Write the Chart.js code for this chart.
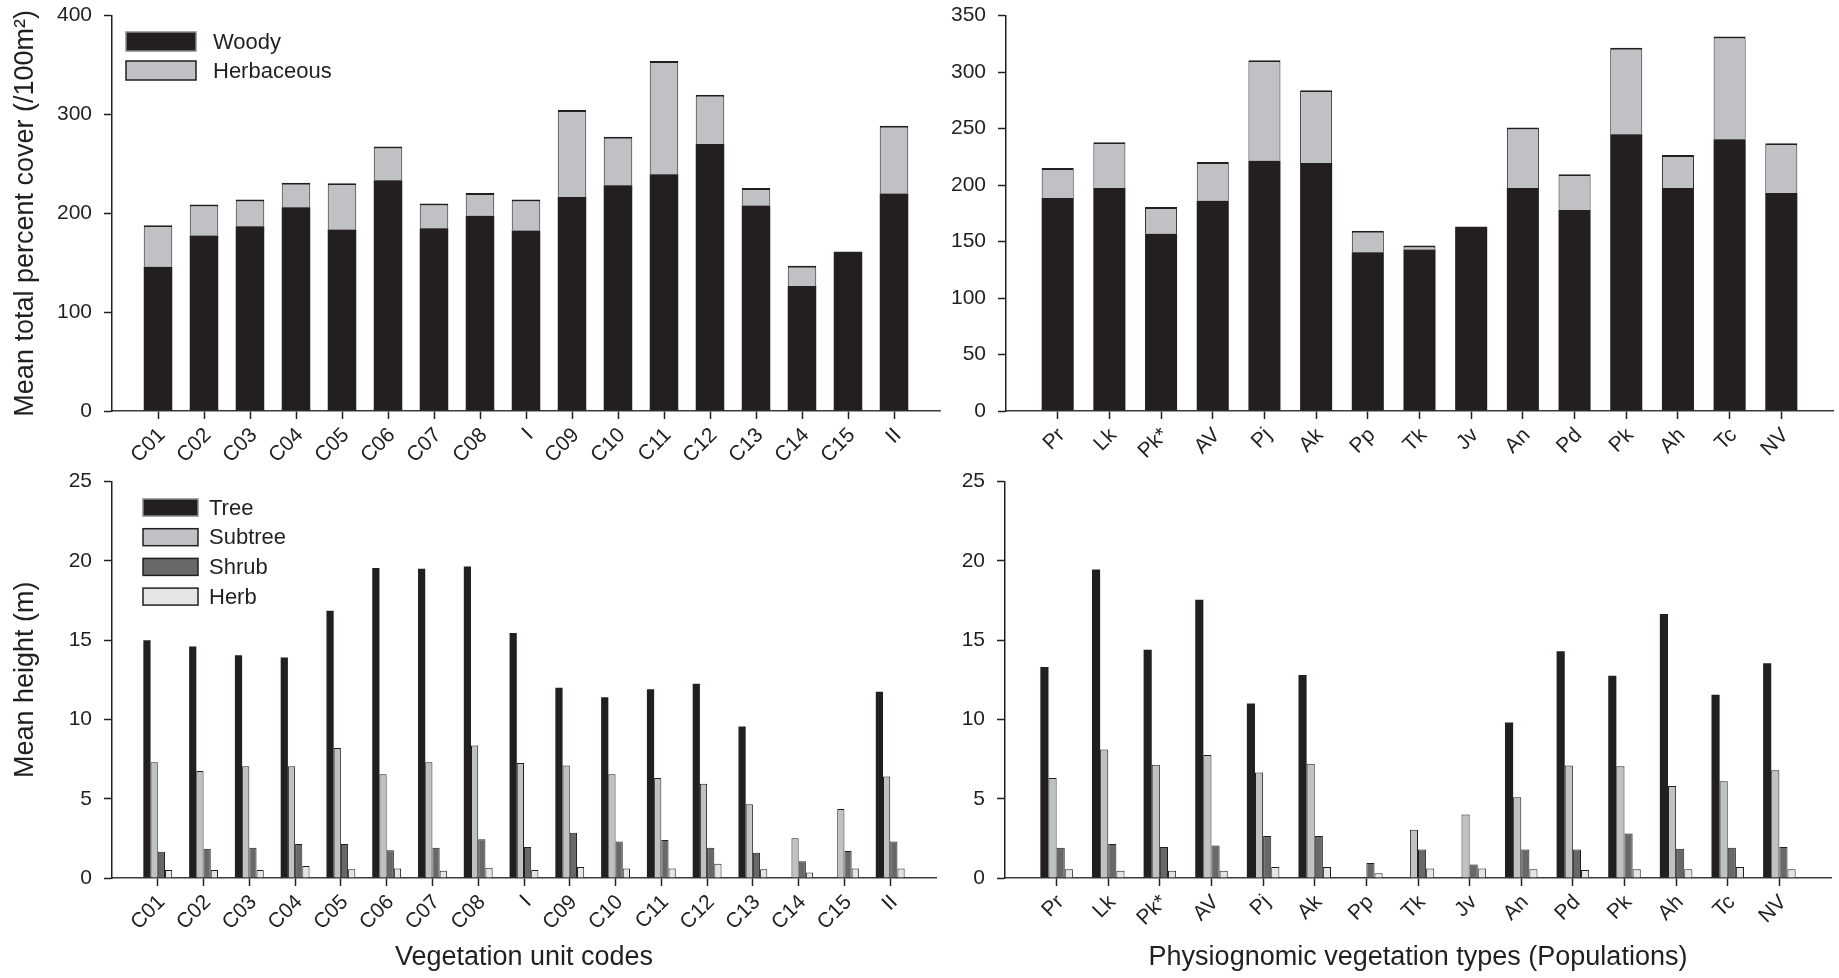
<!DOCTYPE html>
<html>
<head>
<meta charset="utf-8">
<script src="https://cdn.jsdelivr.net/npm/chart.js@4.4.1/dist/chart.umd.min.js"></script>
<style>
    html, body { margin: 0; padding: 0; background: #fff; overflow: hidden; }
    #wrap { position: relative; width: 1839px; height: 978px; overflow: hidden; }
    canvas { position: absolute; }
</style>
</head>
<body>
<div id="wrap">
    <canvas id="coverUnits" width="970" height="479" style="left:0;top:-9px"></canvas>
    <canvas id="coverTypes" width="933" height="479" style="left:930px;top:-9px"></canvas>
    <canvas id="heightUnits" width="966" height="521" style="left:0;top:457px"></canvas>
    <canvas id="heightTypes" width="931" height="521" style="left:930px;top:457px"></canvas>
</div>
<script>
// categories
const unitCodes = ['C01', 'C02', 'C03', 'C04', 'C05', 'C06', 'C07', 'C08', 'I', 'C09', 'C10', 'C11', 'C12', 'C13', 'C14', 'C15', 'II'];
const typeCodes = ['Pr', 'Lk', 'Pk*', 'AV', 'Pj', 'Ak', 'Pp', 'Tk', 'Jv', 'An', 'Pd', 'Pk', 'Ah', 'Tc', 'NV'];

// mean total percent cover (/100m2)
const unitWoody = [146, 177.5, 187, 206, 183.5, 233.5, 185, 197.5, 182.5, 216.5, 228.5, 239.5, 270, 208, 126.5, 161, 220];
const unitHerbaceous = [42, 31.5, 27, 25, 47, 34, 25, 23, 31.5, 88, 49, 114.5, 50, 17.5, 20.5, 0, 68.5];
const typeWoody = [188.5, 197.5, 157, 186, 221.5, 219.5, 140.5, 143, 163, 197.5, 178, 245, 197.5, 240.5, 193];
const typeHerbaceous = [26.5, 40.5, 23.5, 34.5, 89, 64.5, 19, 3.5, 0, 53.5, 31.5, 76.5, 29, 91, 44];

// mean height (m)
const unitTree = [15.0, 14.6, 14.05, 13.9, 16.85, 19.55, 19.5, 19.65, 15.45, 12.0, 11.4, 11.9, 12.25, 9.55, null, null, 11.75];
const unitSubtree = [7.3, 6.75, 7.05, 7.05, 8.2, 6.55, 7.3, 8.35, 7.25, 7.1, 6.55, 6.3, 5.95, 4.65, 2.5, 4.35, 6.4];
const unitShrub = [1.65, 1.85, 1.9, 2.15, 2.15, 1.75, 1.9, 2.45, 1.95, 2.85, 2.3, 2.4, 1.9, 1.6, 1.05, 1.7, 2.3];
const unitHerb = [0.5, 0.5, 0.5, 0.75, 0.55, 0.6, 0.45, 0.65, 0.5, 0.7, 0.6, 0.6, 0.9, 0.55, 0.35, 0.6, 0.6];
const typeTree = [13.3, 19.45, 14.4, 17.55, 11.0, 12.8, null, null, null, 9.8, 14.3, 12.75, 16.65, 11.55, 13.55];
const typeSubtree = [6.3, 8.1, 7.15, 7.75, 6.65, 7.2, null, 3.05, 4.0, 5.1, 7.1, 7.05, 5.8, 6.1, 6.8];
const typeShrub = [1.9, 2.15, 1.95, 2.05, 2.65, 2.65, 0.95, 1.8, 0.85, 1.8, 1.8, 2.8, 1.85, 1.9, 1.95];
const typeHerb = [0.55, 0.45, 0.45, 0.45, 0.7, 0.7, 0.3, 0.6, 0.6, 0.55, 0.5, 0.55, 0.55, 0.7, 0.55];

const ink = '#231f20';
const FONT = '"Liberation Sans", Arial, sans-serif';
Chart.defaults.font.family = FONT;
Chart.defaults.color = ink;

// one empty slot at each end gives the full-step margin seen on both sides of the axis
const padLabels = (arr) => ['', ...arr, ''];
const padData = (arr) => [null, ...arr, null];
const isEdge = (c) => c.index === 0 || c.index === c.scale.ticks.length - 1;

const boxLegend = {
    id: 'boxLegend',
    afterDraw(chart, args, opts) {
        if (!opts || opts.x === undefined) return;
        const { ctx } = chart;
        ctx.save();
        chart.data.datasets.forEach((ds, i) => {
            const top = opts.y + i * opts.step;
            ctx.fillStyle = ds.backgroundColor;
            ctx.fillRect(opts.x, top, opts.w, opts.h);
            ctx.lineWidth = 1.5;
            ctx.strokeStyle = ds.swatchBorder || ink;
            ctx.strokeRect(opts.x, top, opts.w, opts.h);
            ctx.fillStyle = ink;
            ctx.font = `22px ${FONT}`;
            ctx.textBaseline = 'middle';
            ctx.textAlign = 'left';
            ctx.fillText(ds.label, opts.x + opts.w + opts.gap, top + opts.h / 2 + 1);
        });
        ctx.restore();
    }
};

function makeOptions({ yMax, yStep, yTitle, xTitle, yWidth, xHeight, padding, stacked, legend }) {
    return {
        responsive: false,
        animation: false,
        layout: { padding },
        plugins: { legend: { display: false }, tooltip: { enabled: false }, boxLegend: legend || {} },
        scales: {
            x: {
                type: 'category',
                offset: false,
                stacked,
                grid: { drawOnChartArea: false, offset: false, tickLength: 8, tickWidth: 1.5, tickColor: (c) => (isEdge(c) ? 'rgba(0,0,0,0)' : ink) },
                border: { color: '#3b3b3b', width: 1.5 },
                ticks: { autoSkip: false, maxRotation: 45, minRotation: 45, padding: 4, labelOffset: 4, color: ink, font: { size: 21 } },
                title: xTitle ? { display: true, text: xTitle, color: ink, font: { size: 27 }, padding: { top: 0, bottom: 4 } } : { display: false },
                afterFit: (s) => { s.height = xHeight; }
            },
            y: {
                min: 0,
                max: yMax,
                stacked,
                grid: { drawOnChartArea: false, tickLength: 8, tickWidth: 1.5, tickColor: ink },
                border: { color: ink, width: 1.5 },
                ticks: { stepSize: yStep, padding: 12, color: ink, font: { size: 21 } },
                title: yTitle ? { display: true, text: yTitle, color: ink, font: { size: 27 }, padding: { top: 9, bottom: 0 } } : { display: false },
                afterFit: (s) => { s.width = yWidth; }
            }
        }
    };
}

function coverDatasets(woody, herbaceous) {
    return [
        { label: 'Woody', data: padData(woody), backgroundColor: ink, borderWidth: 0, swatchBorder: '#8a8a8a', barPercentage: 0.62, categoryPercentage: 1 },
        { label: 'Herbaceous', data: padData(herbaceous), backgroundColor: '#c0c1c4', borderColor: ink, borderWidth: { top: 2, left: 1, right: 1, bottom: 0 }, barPercentage: 0.62, categoryPercentage: 1 }
    ];
}

function heightDatasets(tree, subtree, shrub, herb) {
    const common = { barPercentage: 1, categoryPercentage: 0.63 };
    return [
        { label: 'Tree', data: padData(tree), backgroundColor: ink, borderWidth: 0, swatchBorder: '#8a8a8a', ...common },
        { label: 'Subtree', data: padData(subtree), backgroundColor: '#c0c1c4', borderColor: ink, borderWidth: 1, ...common },
        { label: 'Shrub', data: padData(shrub), backgroundColor: '#686868', borderColor: ink, borderWidth: 1, ...common },
        { label: 'Herb', data: padData(herb), backgroundColor: '#e4e5e6', borderColor: ink, borderWidth: 1, ...common }
    ];
}

// canvases start above their panels: chart area top = canvas top + label half-height + tick padding
new Chart(document.getElementById('coverUnits'), {
    type: 'bar',
    data: { labels: padLabels(unitCodes), datasets: coverDatasets(unitWoody, unitHerbaceous) },
    options: makeOptions({
        yMax: 400, yStep: 100, yTitle: 'Mean total percent cover (/100m²)', yWidth: 112, xHeight: 59,
        padding: { left: 0, top: 16, right: 30, bottom: 0 }, stacked: true,
        legend: { x: 126, y: 41, w: 70, h: 19, step: 29, gap: 17 }
    }),
    plugins: [boxLegend]
});

new Chart(document.getElementById('coverTypes'), {
    type: 'bar',
    data: { labels: padLabels(typeCodes), datasets: coverDatasets(typeWoody, typeHerbaceous) },
    options: makeOptions({
        yMax: 350, yStep: 50, yWidth: 76, xHeight: 59,
        padding: { left: 0, top: 16, right: 30, bottom: 0 }, stacked: true
    })
});

new Chart(document.getElementById('heightUnits'), {
    type: 'bar',
    data: { labels: padLabels(unitCodes), datasets: heightDatasets(unitTree, unitSubtree, unitShrub, unitHerb) },
    options: makeOptions({
        yMax: 25, yStep: 5, yTitle: 'Mean height (m)', xTitle: 'Vegetation unit codes', yWidth: 112, xHeight: 100,
        padding: { left: 0, top: 16, right: 30, bottom: 0 }, stacked: false,
        legend: { x: 143, y: 42, w: 55, h: 17, step: 29.7, gap: 11 }
    }),
    plugins: [boxLegend]
});

new Chart(document.getElementById('heightTypes'), {
    type: 'bar',
    data: { labels: padLabels(typeCodes), datasets: heightDatasets(typeTree, typeSubtree, typeShrub, typeHerb) },
    options: makeOptions({
        yMax: 25, yStep: 5, xTitle: 'Physiognomic vegetation types (Populations)', yWidth: 75, xHeight: 100,
        padding: { left: 0, top: 16, right: 30, bottom: 0 }, stacked: false
    })
});
</script>
</body>
</html>
